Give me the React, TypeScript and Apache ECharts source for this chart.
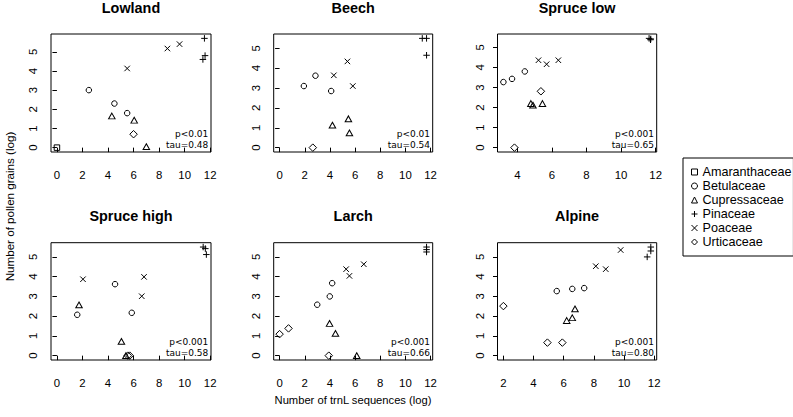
import React, { useEffect, useRef } from "react";
import * as echarts from "echarts";

// ---------- data ----------
const families = ["Amaranthaceae", "Betulaceae", "Cupressaceae", "Pinaceae", "Poaceae", "Urticaceae"];
const panelTitles = ["Lowland", "Beech", "Spruce low", "Spruce high", "Larch", "Alpine"];
const pValues = ["p<0.01", "p<0.01", "p<0.001", "p<0.001", "p<0.001", "p<0.001"];
const tauValues = ["0.48", "0.54", "0.65", "0.58", "0.66", "0.80"];

// data x-limits per panel (R pads them by 4%)
const xLimits = [
  [0, 11.6],
  [0, 11.7],
  [3.19, 11.72],
  [0, 11.6],
  [0, 11.7],
  [2.0, 11.78],
];
const xTicksFrom0 = [0, 2, 4, 6, 8, 10, 12];
const xTicksFrom4 = [4, 6, 8, 10, 12];
const xTicksFrom2 = [2, 4, 6, 8, 10, 12];
const xTickSets = [xTicksFrom0, xTicksFrom0, xTicksFrom4, xTicksFrom0, xTicksFrom0, xTicksFrom2];
const yTicks = [0, 1, 2, 3, 4, 5];

const lowland: Record<string, number[][]> = {
  Amaranthaceae: [[0, 0]],
  Betulaceae: [[2.5, 3.0], [4.5, 2.3], [5.5, 1.8]],
  Cupressaceae: [[4.3, 1.65], [6.05, 1.43], [7.0, 0.05]],
  Pinaceae: [[11.55, 5.7], [11.43, 4.6], [11.6, 4.8]],
  Poaceae: [[5.5, 4.13], [8.65, 5.17], [9.6, 5.4]],
  Urticaceae: [[6.0, 0.7]],
};
const beech: Record<string, number[][]> = {
  Amaranthaceae: [],
  Betulaceae: [[1.93, 3.1], [2.85, 3.62], [4.1, 2.85]],
  Cupressaceae: [[4.2, 1.13], [5.47, 1.45], [5.55, 0.74]],
  Pinaceae: [[11.34, 5.5], [11.68, 5.5], [11.68, 4.65]],
  Poaceae: [[4.31, 3.64], [5.39, 4.34], [5.82, 3.1]],
  Urticaceae: [[2.64, 0]],
};
const spruceLow: Record<string, number[][]> = {
  Amaranthaceae: [],
  Betulaceae: [[3.19, 3.27], [3.69, 3.43], [4.43, 3.8]],
  Cupressaceae: [[4.78, 2.2], [4.9, 2.12], [5.45, 2.2]],
  Pinaceae: [[11.62, 5.45], [11.7, 5.38], [11.72, 5.42]],
  Poaceae: [[5.22, 4.36], [5.69, 4.16], [6.37, 4.36]],
  Urticaceae: [[3.83, 0], [5.36, 2.81]],
};
const spruceHigh: Record<string, number[][]> = {
  Amaranthaceae: [],
  Betulaceae: [[1.59, 2.07], [4.55, 3.62], [5.86, 2.17]],
  Cupressaceae: [[1.73, 2.57], [5.05, 0.72], [5.4, 0]],
  Pinaceae: [[11.45, 5.5], [11.62, 5.42], [11.7, 5.12]],
  Poaceae: [[2.04, 3.87], [6.64, 3.01], [6.82, 3.99]],
  Urticaceae: [[5.55, 0], [5.7, 0]],
};
const larch: Record<string, number[][]> = {
  Amaranthaceae: [],
  Betulaceae: [[2.99, 2.58], [3.99, 3.0], [4.18, 3.67]],
  Cupressaceae: [[3.97, 1.63], [4.44, 1.13], [6.13, 0]],
  Pinaceae: [[11.68, 5.5], [11.68, 5.37], [11.68, 5.25]],
  Poaceae: [[5.29, 4.38], [5.55, 4.04], [6.69, 4.63]],
  Urticaceae: [[0, 1.09], [0.71, 1.38], [3.91, 0]],
};
const alpine: Record<string, number[][]> = {
  Amaranthaceae: [],
  Betulaceae: [[5.54, 3.27], [6.57, 3.38], [7.36, 3.42]],
  Cupressaceae: [[6.2, 1.78], [6.57, 1.92], [6.75, 2.37]],
  Pinaceae: [[11.78, 5.5], [11.78, 5.3], [11.54, 5.0]],
  Poaceae: [[8.13, 4.53], [8.79, 4.38], [9.78, 5.35]],
  Urticaceae: [[2.0, 2.51], [4.92, 0.66], [5.91, 0.66]],
};
const panels = [lowland, beech, spruceLow, spruceHigh, larch, alpine];

// ---------- styling ----------
const SANS = "'Liberation Sans', Arial, Helvetica, sans-serif";
const DEJAVU = "'DejaVu Sans', sans-serif";
const INK = "#000";

const symbols: Record<string, string> = {
  Amaranthaceae: "rect",
  Betulaceae: "circle",
  Cupressaceae: "triangle",
  Pinaceae: "path://M5,0L5,10M0,5L10,5",
  Poaceae: "path://M0,0L10,10M10,0L0,10",
  Urticaceae: "diamond",
};
const symbolSizes: Record<string, number | number[]> = {
  Amaranthaceae: 5.5,
  Betulaceae: 5.5,
  Cupressaceae: [6.5, 5.8],
  Pinaceae: 6.5,
  Poaceae: 5.5,
  Urticaceae: 7.5,
};

const colLefts = [51, 273.7, 497.5];
const colWidths = [160, 159, 159.2];
const rowTops = [34, 242.7];
const rowHeights = [118, 117.3];

export default function App() {
  const ref = useRef<HTMLDivElement>(null);

  useEffect(() => {
    if (!ref.current) return;
    const chart = echarts.init(ref.current, null, { renderer: "svg" });

    const grids: any[] = [];
    const xAxes: any[] = [];
    const yAxes: any[] = [];
    const series: any[] = [];
    const graphics: any[] = [];

    panels.forEach((panel, i) => {
      const col = i % 3;
      const row = Math.floor(i / 3);
      const left = colLefts[col];
      const width = colWidths[col];
      const top = rowTops[row];
      const height = rowHeights[row];
      grids.push({
        left,
        top,
        width,
        height,
        show: true,
        borderColor: INK,
        borderWidth: 1,
        backgroundColor: "transparent",
        containLabel: false,
      });

      const [xlo, xhi] = xLimits[i];
      const xpad = 0.04 * (xhi - xlo);
      let ymax = 0;
      families.forEach((f) => panel[f].forEach((p) => (ymax = Math.max(ymax, p[1]))));
      const ypad = 0.04 * ymax;

      xAxes.push({
        type: "value",
        gridIndex: i,
        min: xlo - xpad,
        max: xhi + xpad,
        axisLine: { show: false },
        splitLine: { show: false },
        axisTick: {
          show: true,
          length: 4.5,
          customValues: xTickSets[i],
          lineStyle: { color: INK, width: 1 },
        },
        axisLabel: {
          customValues: xTickSets[i],
          fontSize: 11.4,
          fontFamily: SANS,
          color: INK,
          margin: 17.5,
        },
      });
      yAxes.push({
        type: "value",
        gridIndex: i,
        min: -ypad,
        max: ymax + ypad,
        axisLine: { show: false },
        splitLine: { show: false },
        axisTick: {
          show: true,
          length: 4.5,
          customValues: yTicks,
          lineStyle: { color: INK, width: 1 },
        },
        axisLabel: {
          customValues: yTicks,
          fontSize: 11.4,
          fontFamily: SANS,
          color: INK,
          rotate: 90,
          margin: 12.5,
        },
      });

      families.forEach((f) => {
        if (!panel[f].length) return;
        series.push({
          name: f,
          type: "scatter",
          xAxisIndex: i,
          yAxisIndex: i,
          data: panel[f],
          symbol: symbols[f],
          symbolSize: symbolSizes[f],
          silent: true,
          itemStyle: { color: "transparent", borderColor: INK, borderWidth: 1, opacity: 1 },
        });
      });

      // panel title
      graphics.push({
        type: "text",
        x: left + width / 2,
        y: top - 26.5,
        style: {
          text: panelTitles[i],
          align: "center",
          verticalAlign: "middle",
          font: `bold 14.4px ${SANS}`,
          fill: INK,
        },
      });
      // p / tau annotation
      graphics.push({
        type: "text",
        x: left + width - 2.7,
        y: top + height - 17.7,
        style: {
          text: pValues[i],
          align: "right",
          verticalAlign: "middle",
          font: `9px ${DEJAVU}`,
          fill: INK,
        },
      });
      graphics.push({
        type: "text",
        x: left + width - 2.7,
        y: top + height - 7,
        style: {
          text: `tau=${tauValues[i]}`,
          align: "right",
          verticalAlign: "middle",
          font: `9px ${DEJAVU}`,
          fill: INK,
        },
      });
    });

    // axis titles
    graphics.push({
      type: "text",
      x: 353,
      y: 400,
      style: {
        text: "Number of trnL sequences (log)",
        align: "center",
        verticalAlign: "middle",
        font: `11.2px ${SANS}`,
        fill: INK,
      },
    });
    graphics.push({
      type: "text",
      x: 9,
      y: 206.5,
      rotation: Math.PI / 2,
      style: {
        text: "Number of pollen grains (log)",
        align: "center",
        verticalAlign: "middle",
        font: `11.6px ${SANS}`,
        fill: INK,
      },
    });

    chart.setOption({
      animation: false,
      backgroundColor: "#fff",
      grid: grids,
      xAxis: xAxes,
      yAxis: yAxes,
      series,
      graphic: graphics,
      legend: {
        data: families,
        orient: "vertical",
        left: 683,
        top: 158,
        padding: [7, 2, 7, 8],
        itemWidth: 6,
        itemHeight: 6,
        itemGap: 0,
        selectedMode: false,
        borderColor: INK,
        borderWidth: 1,
        itemStyle: { color: "transparent", borderColor: INK, borderWidth: 1 },
        textStyle: { fontSize: 12.6, fontFamily: SANS, color: INK, lineHeight: 14 },
      },
    });

    return () => chart.dispose();
  }, []);

  return (
    <div
      ref={ref}
      style={{ position: "fixed", left: 0, top: 0, width: 793, height: 417, background: "#fff" }}
    />
  );
}
